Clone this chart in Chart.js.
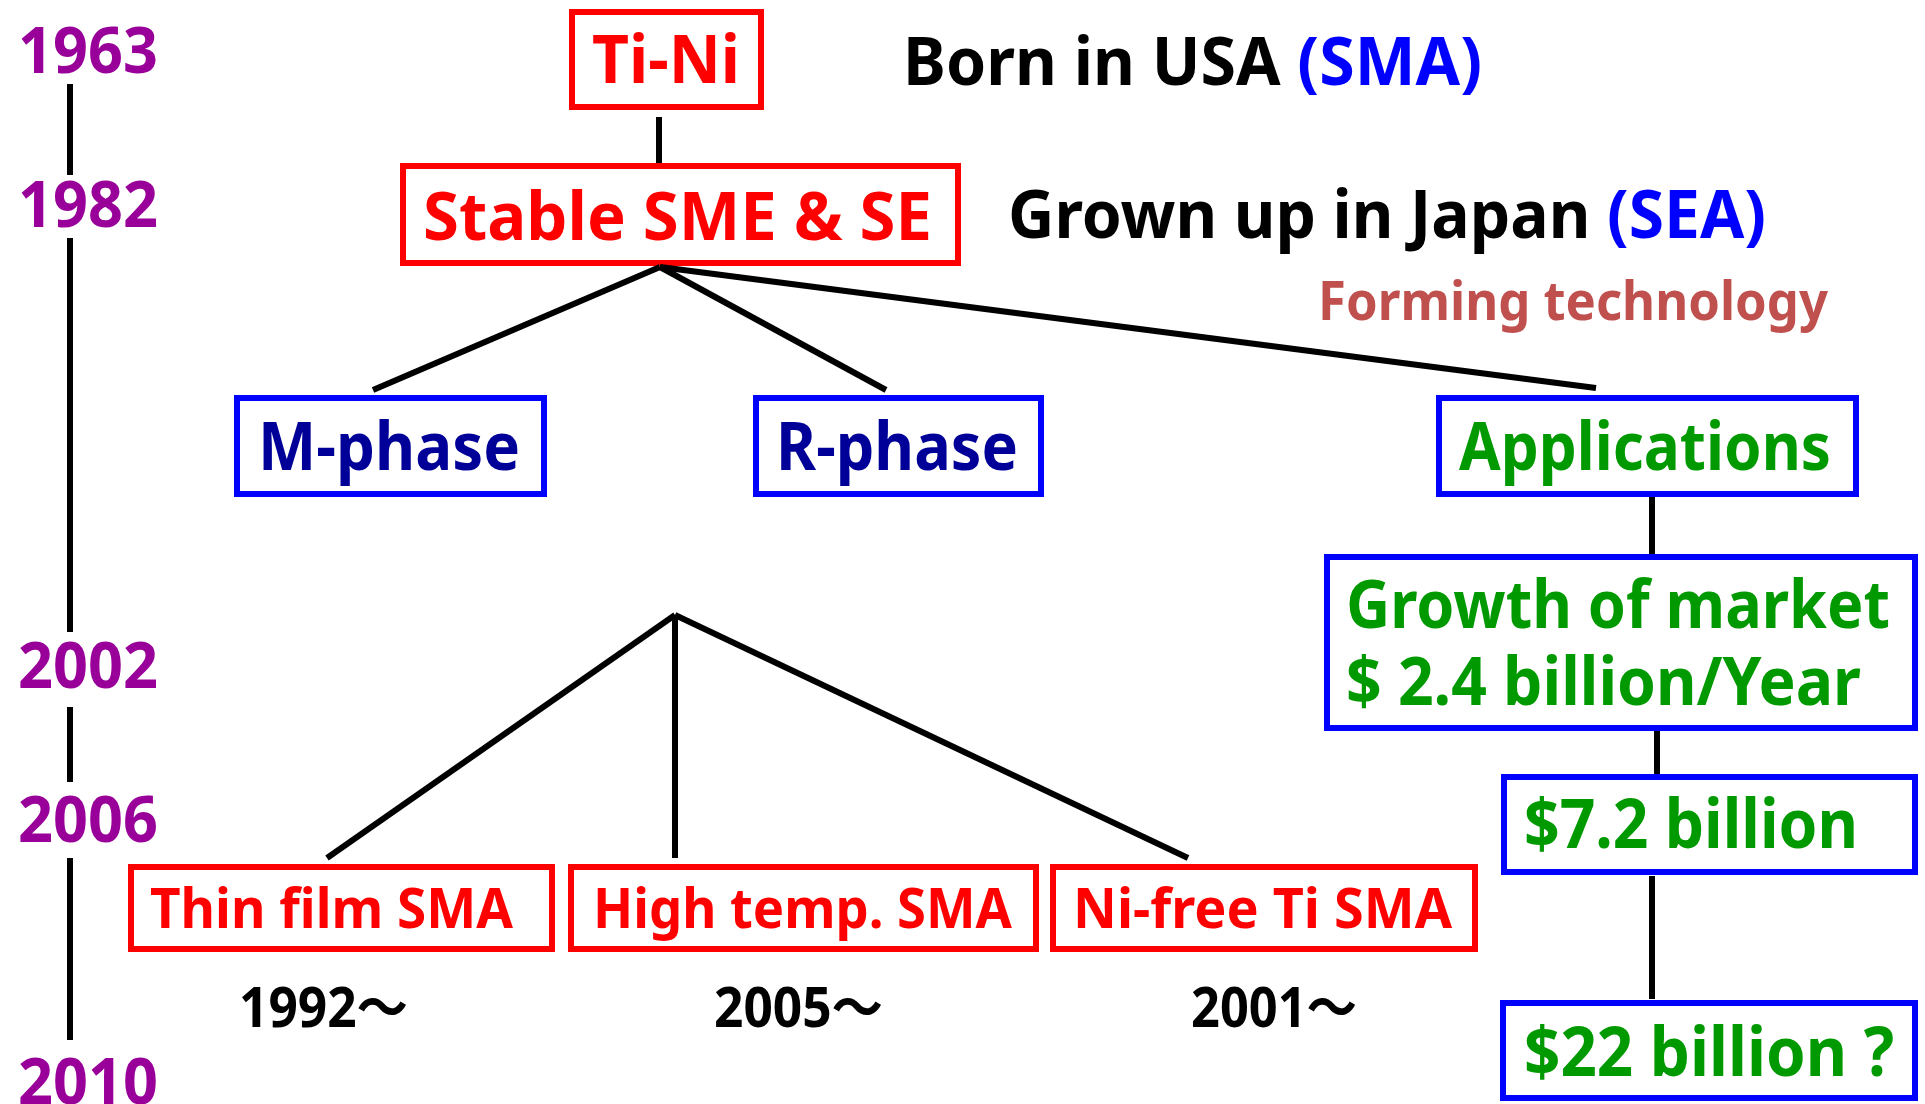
<!DOCTYPE html>
<html>
<head>
<meta charset="utf-8">
<script src="https://cdn.jsdelivr.net/npm/chart.js@4"></script>
<style>
html,body{margin:0;padding:0;background:#fff;overflow:hidden}
canvas{display:block}
</style>
</head>
<body>
<canvas id="c" width="1925" height="1104"></canvas>
<script>
// ---------- data ----------
const years = ['1963', '1982', '2002', '2006', '2010'];
const rootNodes = ['Ti-Ni', 'Stable SME & SE'];
const phaseNodes = ['M-phase', 'R-phase', 'Applications'];
const alloyNodes = ['Thin film SMA', 'High temp. SMA', 'Ni-free Ti SMA'];
const alloyStart = ['1992～', '2005～', '2001～'];
const marketNodes = [['Growth of market', '$ 2.4 billion/Year'], ['$7.2 billion'], ['$22 billion ?']];
const notes = [
  [['Born in USA ', 'black'], ['(SMA)', 'blue']],
  [['Grown up in Japan ', 'black'], ['(SEA)', 'blue']],
  [['Forming technology', 'brown']]
];

// ---------- layout (diagram coordinates) ----------
const C = {red:'#FF0000', blue:'#0000FF', navy:'#000099', green:'#009900', purple:'#990099', black:'#000000', brown:'#C0504D'};
const yearLayout = [[18,73,140],[18,227,140],[18,688,140],[18,842,140],[18,1104,140]];
const timelineSegs = [[84,175],[238,632],[707,782],[858,1040]];
const timelineX = 70;
// boxes: x0,x1,y0,y1 (outer edge)
const rootBoxes = [[569,764,9,110],[400,961,163,266]];
const phaseBoxes = [[234,547,395,497],[753,1044,395,497],[1436,1859,395,497]];
const alloyBoxes = [[128,555,864,952],[568,1039,864,952],[1050,1478,864,952]];
const marketBoxes = [[1324,1918,554,731],[1501,1918,774,875],[1500,1918,1000,1101]];
const edges = [
  [[659,117],[659,163]],
  [[660,267],[373,390]],[[660,267],[886,390]],[[660,267],[1596,388]],
  [[675,615],[327,858]],[[675,615],[675,858]],[[675,615],[1188,858]],
  [[1652,497],[1652,554]],[[1657,731],[1657,774]],[[1652,876],[1652,999]]
];
// text layouts: x, baseline y, width, size
const rootText = [[592,83,148,67],[423,240,509,67]];
const phaseText = [[258,470,262,66],[776,470,242,66],[1459,470,372,66]];
const alloyText = [[150,928,363,55],[593,928,419,55],[1073,928,379,55]];
const startText = [[239,1027,169,55],[714,1027,169,55],[1191,1027,166,55]];
const marketText = [[[1346,628,544,66],[1346,705,515,66]],[[1524,848,334,68]],[[1524,1076,370,68]]];
const noteText = [[903,85,579,66],[1008,238,758,66],[1318,320,510,53]];

// ---------- build datasets ----------
const datasets = [];
function lineDs(pts, color, w){
  datasets.push({type:'line', data:pts.map(p=>({x:p[0],y:p[1]})), borderColor:color, borderWidth:w,
    pointRadius:0, showLine:true, fill:false, tension:0, borderCapStyle:'butt', borderJoinStyle:'miter'});
}
timelineSegs.forEach(s=>lineDs([[timelineX,s[0]],[timelineX,s[1]]], C.black, 6));
edges.forEach(e=>lineDs(e, C.black, 6));
function boxDs(b, color){
  const w=6, h=w/2;
  const x0=b[0]+h, x1=b[1]-h, y0=b[2]+h, y1=b[3]-h;
  lineDs([[x0,y0],[x1,y0],[x1,y1],[x0,y1],[x0,y0],[x1,y0]], color, w);
}
rootBoxes.forEach(b=>boxDs(b, C.red));
phaseBoxes.forEach(b=>boxDs(b, C.blue));
alloyBoxes.forEach(b=>boxDs(b, C.red));
marketBoxes.forEach(b=>boxDs(b, C.blue));

// ---------- labels ----------
const labels = [];
function addLabel(parts, lay){ labels.push({parts, x:lay[0], y:lay[1], w:lay[2], size:lay[3]}); }
years.forEach((t,i)=>addLabel([[t,C.purple]], [yearLayout[i][0],yearLayout[i][1],yearLayout[i][2],64]));
rootNodes.forEach((t,i)=>addLabel([[t,C.red]], rootText[i]));
phaseNodes.forEach((t,i)=>addLabel([[t, i<2?C.navy:C.green]], phaseText[i]));
alloyNodes.forEach((t,i)=>addLabel([[t,C.red]], alloyText[i]));
alloyStart.forEach((t,i)=>addLabel([[t,C.black]], startText[i]));
marketNodes.forEach((lines,i)=>lines.forEach((t,j)=>addLabel([[t,C.green]], marketText[i][j])));
notes.forEach((parts,i)=>addLabel(parts.map(p=>[p[0], C[p[1]]]), noteText[i]));

const textPlugin = {
  id:'diagramText',
  afterDatasetsDraw(chart){
    const ctx = chart.ctx, xs = chart.scales.x, ys = chart.scales.y;
    labels.forEach(l=>{
      ctx.save();
      ctx.font = 'bold ' + l.size + 'px "Noto Sans", "Noto Sans CJK JP", sans-serif';
      ctx.textBaseline = 'alphabetic';
      ctx.textAlign = 'left';
      let total = 0;
      l.parts.forEach(p=>{ total += ctx.measureText(p[0]).width; });
      const px = xs.getPixelForValue(l.x), py = ys.getPixelForValue(l.y);
      const tw = xs.getPixelForValue(l.x + l.w) - px;
      ctx.translate(px, py);
      ctx.scale(tw/total, 1);
      let cx = 0;
      l.parts.forEach(p=>{ ctx.fillStyle = p[1]; ctx.fillText(p[0], cx, 0); cx += ctx.measureText(p[0]).width; });
      ctx.restore();
    });
  }
};

new Chart(document.getElementById('c'), {
  type:'scatter',
  data:{datasets},
  options:{
    responsive:false, animation:false, devicePixelRatio:1,
    layout:{padding:0},
    plugins:{legend:{display:false}, tooltip:{enabled:false}},
    scales:{
      x:{type:'linear', min:0, max:1925, display:false},
      y:{type:'linear', min:0, max:1104, reverse:true, display:false}
    }
  },
  plugins:[textPlugin]
});
</script>
</body>
</html>
